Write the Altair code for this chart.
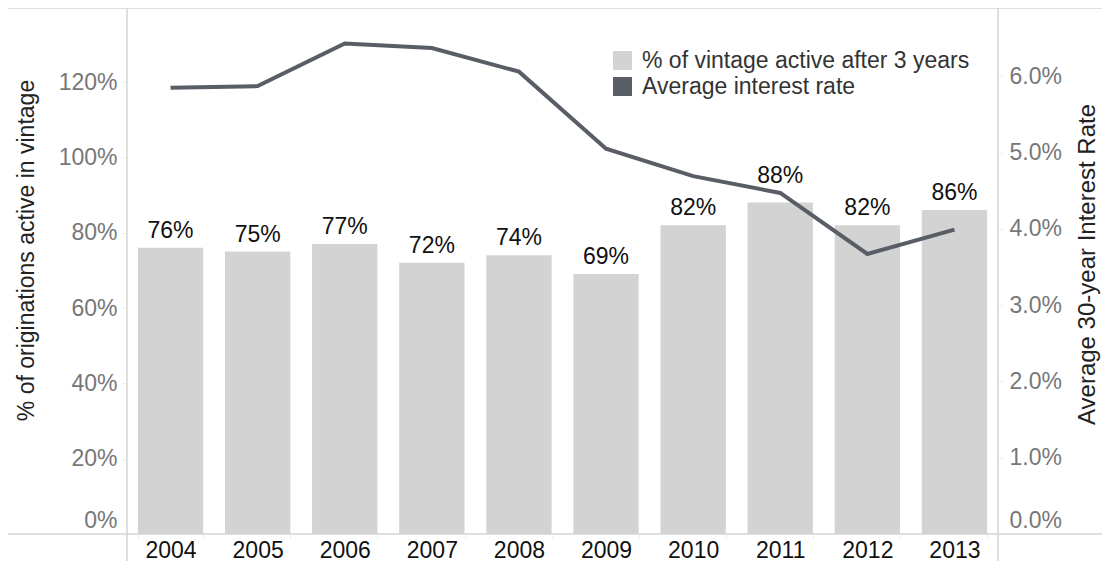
import altair as alt
import pandas as pd

years = ["2004", "2005", "2006", "2007", "2008", "2009", "2010", "2011", "2012", "2013"]
active_share = [0.76, 0.75, 0.77, 0.72, 0.74, 0.69, 0.82, 0.88, 0.82, 0.86]
interest_rate = [0.0585, 0.0587, 0.0643, 0.0637, 0.0606, 0.0505, 0.0469, 0.0447, 0.0367, 0.0399]
left_ticks = [0, 0.2, 0.4, 0.6, 0.8, 1.0, 1.2]
right_ticks = [0, 0.01, 0.02, 0.03, 0.04, 0.05, 0.06]
bar_label = "% of vintage active after 3 years"
line_label = "Average interest rate"
raised_label_years = ["2011"]  # label lifted above the line, as in the original

BAR_COLOR = "#d3d3d3"
LINE_COLOR = "#585d66"
BORDER = "#d4d4d4"
FONT = "Liberation Sans"
W, H = 871, 526
PL, PR, PT, PB = 119, 104, 0, 27

df = pd.DataFrame({"year": years, "active": active_share, "rate": interest_rate,
                   "series": [bar_label] * len(years)})

x_enc = alt.X("year:N", sort=years, title=None,
              scale=alt.Scale(paddingInner=0.25, paddingOuter=0.125),
              axis=alt.Axis(labelFontSize=23, labelColor="#111", labelFont=FONT,
                            labelAngle=0, domain=False, tickBand="extent",
                            tickSize=4, tickColor="#ececec", labelPadding=12,
                            labelBaseline="middle"))

y_left = alt.Scale(domain=[0, 1.3965], nice=False, zero=True)
y_right = alt.Scale(domain=[0, 0.06894], nice=False, zero=True)

base = alt.Chart(df)

bars = base.mark_bar().encode(
    x=x_enc,
    y=alt.Y("active:Q", scale=y_left, title="% of originations active in vintage",
            axis=alt.Axis(values=left_ticks, format=".0%", grid=False, domain=False,
                          labelFontSize=23, labelColor="#777", labelFont=FONT,
                          tickSize=5, tickColor="#eeeeee", labelPadding=5,
                          labelFlush=True, labelFlushOffset=-2,
                          titleFontSize=23, titleFont=FONT, titleFontWeight="normal",
                          titleColor="#222", titleX=-101, titleY=242,
                          titleAlign="center", titleBaseline="middle", titleAngle=270)),
    color=alt.Color("series:N",
                    scale=alt.Scale(domain=[bar_label, line_label], range=[BAR_COLOR, LINE_COLOR]),
                    legend=alt.Legend(title=None, orient="none", legendX=484, legendY=41,
                                      symbolType="square", symbolSize=361, symbolStrokeWidth=0,
                                      labelFontSize=23, labelFont=FONT, labelColor="#333",
                                      labelOffset=8, rowPadding=2, padding=0, labelLimit=0)),
)

label_enc = dict(
    x=alt.X("year:N", sort=years),
    y=alt.Y("active:Q", scale=y_left, axis=None),
    text=alt.Text("active:Q", format=".0%"),
)
labels = base.mark_text(dy=-10, baseline="alphabetic", fontSize=23, font=FONT, color="#111").encode(
    **label_enc
).transform_filter(alt.FieldOneOfPredicate(field="year", oneOf=raised_label_years).__invert__())
labels_raised = base.mark_text(dy=-20, baseline="alphabetic", fontSize=23, font=FONT, color="#111").encode(
    **label_enc
).transform_filter(alt.FieldOneOfPredicate(field="year", oneOf=raised_label_years))

line = base.mark_line(color=LINE_COLOR, strokeWidth=4).encode(
    x=alt.X("year:N", sort=years),
    y=alt.Y("rate:Q", scale=y_right, title="Average 30-year Interest Rate",
            axis=alt.Axis(orient="right", values=right_ticks, format=".1%", grid=False,
                          domain=False, labelFontSize=23, labelColor="#777", labelFont=FONT,
                          tickSize=5, tickColor="#eeeeee", labelPadding=6,
                          labelFlush=True, labelFlushOffset=-2,
                          titleFontSize=24, titleFont=FONT, titleFontWeight="normal",
                          titleColor="#222", titleX=89, titleY=256,
                          titleAlign="center", titleBaseline="middle", titleAngle=270)),
)

one = pd.DataFrame({"k": [0]})
frame = alt.Chart(one)
h_top = frame.mark_rule(color=BORDER, strokeWidth=1.5).encode(
    x=alt.value(-PL), x2=alt.value(W + PR), y=alt.value(0))
h_bot = frame.mark_rule(color=BORDER, strokeWidth=1.5).encode(
    x=alt.value(-PL), x2=alt.value(W + PR), y=alt.value(H))
v_left = frame.mark_rule(color=BORDER, strokeWidth=1.5).encode(
    x=alt.value(0), y=alt.value(0), y2=alt.value(H + PB))
v_right = frame.mark_rule(color=BORDER, strokeWidth=1.5).encode(
    x=alt.value(W), y=alt.value(0), y2=alt.value(H + PB))

chart = alt.layer(bars, labels, labels_raised, line, h_top, h_bot, v_left, v_right).resolve_scale(
    y="independent"
).properties(
    width=W, height=H, autosize="none",
    padding={"left": PL, "right": PR, "top": PT, "bottom": PB},
).configure_view(stroke=None)

chart.save("out.html", embed_options={"renderer": "svg", "actions": False})
